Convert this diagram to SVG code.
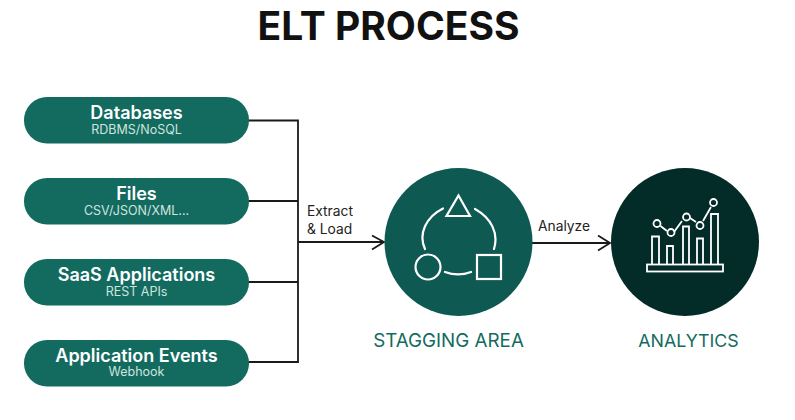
<svg xmlns="http://www.w3.org/2000/svg" width="795" height="420" viewBox="0 0 795 420">
<style>
text{font-family:"Inter","Liberation Sans",sans-serif;text-anchor:middle}
.pill{fill:#136b60}
.t{fill:#fff;font-size:18px;font-weight:600}
.s{fill:#cfe3df;font-size:12.500px}
.c{fill:none;stroke:#1a1a1a;stroke-width:1.8}
.l{fill:#222;font-size:13.800px;text-anchor:start}
.cap{fill:#136b60}
.i{fill:none;stroke:#fff;stroke-width:2.2}
.j{fill:none;stroke:#fff;stroke-width:1.8}
</style>
<rect width="795" height="420" fill="#fff"/>
<text id="title" x="388.500" y="39.500" font-size="39" font-weight="700" fill="#111">ELT PROCESS</text>
<g id="connectors">
<path class="c" d="M248 120.500H298V362H248M248 201H298M248 282H298M298 242H384"/>
<path class="c" d="M372 235.500L384 242L372 249.500"/>
<path class="c" d="M532 243H610"/>
<path class="c" d="M598 235.500L610 243L598 250.500"/>
</g>
<g id="databases"><rect class="pill" x="24" y="97" width="225" height="46.500" rx="23"/><text class="t" x="136.500" y="119">Databases</text><text class="s" x="136.500" y="134">RDBMS/NoSQL</text></g>
<g id="files"><rect class="pill" x="24" y="178" width="225" height="46.500" rx="23"/><text class="t" x="136.500" y="200">Files</text><text class="s" x="136.500" y="215">CSV/JSON/XML...</text></g>
<g id="saas"><rect class="pill" x="24" y="259" width="225" height="46.500" rx="23"/><text class="t" x="136.500" y="281">SaaS Applications</text><text class="s" x="136.500" y="296">REST APIs</text></g>
<g id="events"><rect class="pill" x="24" y="340" width="225" height="46.500" rx="23"/><text class="t" x="136.500" y="361.500">Application Events</text><text class="s" x="136.500" y="376">Webhook</text></g>
<g id="extract-label"><text class="l" x="307" y="215.500">Extract</text><text class="l" x="307" y="233.500">&amp; Load</text></g>
<text id="analyze-label" class="l" x="538" y="231">Analyze</text>
<g id="staging">
<circle cx="458.500" cy="242" r="74" fill="#0e5a53"/>
<path class="i" d="M458.500 195.500L470 216H446.500Z"/>
<circle class="i" cx="428" cy="267" r="12.500"/>
<rect class="i" x="477" y="255" width="24" height="24"/>
<path class="i" stroke-linecap="round" d="M443 208.500C426 217 418 234 425 249M475 209C491 218 499 233 494 249M445 272C453 275 463 275 471 272"/>
<text class="cap" x="448.500" y="347" font-size="18.800">STAGGING AREA</text>
</g>
<g id="analytics">
<circle cx="685" cy="242" r="74" fill="#032b28"/>
<rect class="j" x="647" y="264.500" width="76" height="7"/>
<path class="j" d="M652 264V236.500H659V264M667 264V246H673V264M683 264V226.500H689V264M697 264V238.500H703V264M711 264V214H718V264"/>
<path class="j" d="M660.500 226L667 231M674 232L682 221M690 218L696 222M703 221L711 207"/>
<g class="j"><circle cx="657" cy="223.500" r="3.500"/><circle cx="671" cy="232.500" r="3.500"/><circle cx="686.500" cy="217" r="3.500"/><circle cx="700" cy="225.500" r="3.500"/><circle cx="713.500" cy="202.500" r="3.500"/></g>
<text class="cap" x="688.500" y="347" font-size="17.800">ANALYTICS</text>
</g>
</svg>
